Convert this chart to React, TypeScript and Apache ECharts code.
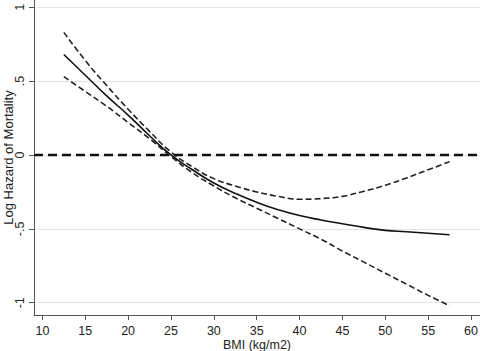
import React, { useEffect, useRef } from "react";
import * as echarts from "echarts";

const bmi = [12.5, 15, 17.5, 20, 22.5, 25, 27.5, 30, 32.5, 35, 37.5, 40, 42.5, 45, 47.5, 50, 52.5, 55, 57.5];
const estimate = [0.68, 0.54, 0.4, 0.27, 0.13, 0.0, -0.1, -0.19, -0.26, -0.32, -0.37, -0.41, -0.44, -0.465, -0.49, -0.51, -0.52, -0.53, -0.54];
const upperCI = [0.83, 0.64, 0.47, 0.31, 0.16, 0.02, -0.08, -0.16, -0.21, -0.25, -0.28, -0.3, -0.295, -0.28, -0.245, -0.205, -0.155, -0.1, -0.045];
const lowerCI = [0.53, 0.43, 0.33, 0.22, 0.11, -0.01, -0.12, -0.21, -0.29, -0.36, -0.43, -0.5, -0.57, -0.65, -0.725, -0.8, -0.875, -0.95, -1.02];
const xTicks = [10, 15, 20, 25, 30, 35, 40, 45, 50, 55, 60];
const yTicks = [-1, -0.5, 0, 0.5, 1];
const xMin = 9.02;
const xMax = 61.05;
const yMin = -1.083;
const yMax = 1.049;

const fmtY = (v: number) => {
  if (v === 0) return "0";
  const s = String(v);
  return s.replace("0.", ".");
};

export default function App() {
  const ref = useRef<HTMLDivElement>(null);
  useEffect(() => {
    const chart = echarts.init(ref.current!, undefined, { renderer: "svg" });
    const font = "Liberation Sans, Arial, sans-serif";
    const pair = (ys: number[]) => bmi.map((x, i) => [x, ys[i]]);
    chart.setOption({
      animation: false,
      grid: { left: 34, right: 0, top: 0, bottom: 36, containLabel: false, outerBoundsMode: "none" },
      xAxis: {
        type: "value",
        min: xMin,
        max: xMax,
        name: "BMI (kg/m2)",
        nameLocation: "middle",
        nameGap: 23,
        nameMoveOverlap: false,
        nameTextStyle: { fontFamily: font, fontSize: 12.5, color: "#222" },
        axisLine: { onZero: false, lineStyle: { color: "#555", width: 1 } },
        axisTick: { show: true, length: 5, customValues: xTicks, lineStyle: { color: "#555" } },
        axisLabel: { customValues: xTicks, fontFamily: font, fontSize: 12.5, color: "#222", margin: 9 },
        splitLine: { show: false },
      },
      yAxis: {
        type: "value",
        min: yMin,
        max: yMax,
        name: "Log Hazard of Mortality",
        nameLocation: "middle",
        nameGap: 19,
        nameMoveOverlap: false,
        nameTextStyle: { fontFamily: font, fontSize: 13, color: "#222" },
        axisLine: { show: true, lineStyle: { color: "#555", width: 1 } },
        axisTick: { show: true, length: 5, customValues: yTicks, lineStyle: { color: "#555" } },
        axisLabel: {
          customValues: yTicks,
          rotate: 90,
          fontFamily: font,
          fontSize: 12.5,
          color: "#222",
          margin: 8,
          formatter: fmtY,
        },
        splitLine: { show: true, lineStyle: { color: "#e4e4e4", width: 1 } },
      },
      series: [
        {
          type: "line",
          data: [[xMin, 0], [xMax, 0]],
          symbol: "none",
          lineStyle: { color: "#111", width: 2.5, type: [9, 5] },
          z: 1,
        },
        {
          type: "line",
          data: pair(estimate),
          smooth: true,
          symbol: "none",
          lineStyle: { color: "#111", width: 1.6 },
        },
        {
          type: "line",
          data: pair(upperCI),
          smooth: true,
          symbol: "none",
          lineStyle: { color: "#222", width: 1.6, type: [6, 3] },
        },
        {
          type: "line",
          data: pair(lowerCI),
          smooth: true,
          symbol: "none",
          lineStyle: { color: "#222", width: 1.6, type: [6, 3] },
        },
      ],
    });
    return () => chart.dispose();
  }, []);
  return <div ref={ref} style={{ width: 480, height: 351, position: "absolute", left: 0, top: 0 }} />;
}
